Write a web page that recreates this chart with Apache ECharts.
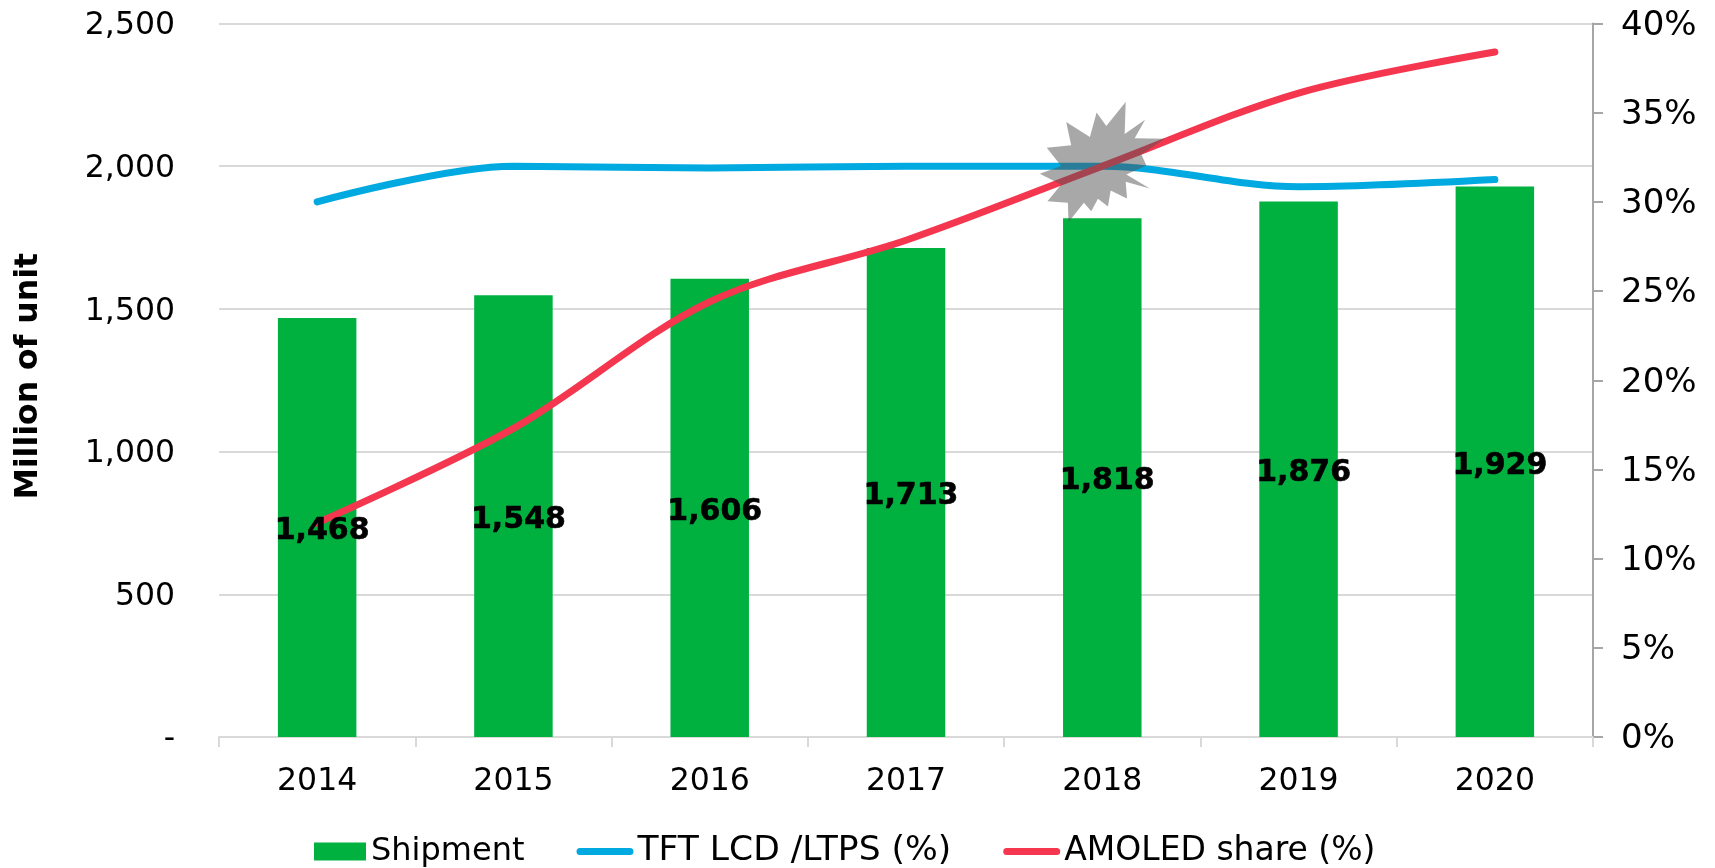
<!DOCTYPE html>
<html>
<head>
<meta charset="utf-8">
<style>html,body{margin:0;padding:0;background:#fff}#c{width:1715px;height:868px}</style>
<script src="https://cdn.jsdelivr.net/npm/echarts@6/dist/echarts.min.js"></script>
</head>
<body>
<div id="c"></div>
<script>
const categories = ['2014','2015','2016','2017','2018','2019','2020'];
const shipment = [1468,1548,1606,1713,1818,1876,1929];
const tftShare = [30.0,32.0,31.9,32.0,32.0,30.85,31.25];
const amoledShare = [12.0,17.3,24.4,27.85,32.0,36.1,38.4];
const burstMarker = [null,null,null,null,2015,null,null];
const burstPath = 'path://M523 128L520 224L581 181L550 237L640 238L570 285L585 318L525 345L595 387L523 367L527 417L478 393L470 441L440 418L420 455L398 430L352 487L350 430L289 425L330 375L266 343L330 320L287 265L360 258L345 188L416 233L436 160L465 200Z';
const rectIcon = 'path://M0 0H52V18H0ZM57 0L57 0Z';
const lineIcon = 'path://M3.5 5.5H53.5A3.5 3.5 0 0 1 53.5 12.5H3.5A3.5 3.5 0 0 1 3.5 5.5ZM0 0L0 0ZM57 18L57 18Z';
const FONT = '"DejaVu Sans", Verdana, sans-serif';

const chart = echarts.init(document.getElementById('c'), null, {renderer:'canvas'});
chart.setOption({
  animation:false,
  backgroundColor:'#fff',
  textStyle:{fontFamily:FONT},
  grid:{left:219,right:122,top:23.5,bottom:131,containLabel:false},
  legend:{
    data:[
      {name:'Shipment',icon:rectIcon,textStyle:{fontSize:32,padding:[0,0,0,-5]}},
      {name:'TFT LCD /LTPS (%)',icon:lineIcon,textStyle:{fontSize:34.5,padding:[0,0,0,-1]}},
      {name:'AMOLED share (%)',icon:lineIcon,textStyle:{fontSize:33,padding:[0,0,0,-1]}}
    ],
    left:309, top:829, itemWidth:57, itemHeight:18, itemGap:52,
    textStyle:{fontFamily:FONT,fontSize:33,color:'#000'}
  },
  xAxis:{
    type:'category', data:categories,
    axisLine:{lineStyle:{color:'#d9d9d9',width:2}},
    axisTick:{show:true,length:10,alignWithLabel:false,lineStyle:{color:'#d9d9d9',width:2}},
    axisLabel:{color:'#000',fontFamily:FONT,fontSize:31.5,margin:29}
  },
  yAxis:[{
    type:'value', min:0, max:2500, interval:500,
    name:'Million of unit', nameLocation:'middle', nameGap:174, nameRotate:90,
    nameTextStyle:{fontFamily:FONT,fontSize:31.5,fontWeight:'bold',color:'#000',padding:[0,0,0,8]},
    axisLine:{show:false}, axisTick:{show:false},
    splitLine:{lineStyle:{color:'#d9d9d9',width:2}},
    axisLabel:{margin:44,
      formatter:v=> '{a|' + (v===0 ? '-' : v.toLocaleString('en-US')) + '}',
      rich:{a:{color:'#000',fontFamily:FONT,fontSize:31.5,padding:[5,0,0,0]}}}
  },{
    type:'value', min:0, max:40, interval:5, position:'right',
    axisLine:{show:true,lineStyle:{color:'#a6a6a6',width:2}},
    axisTick:{show:true,length:10,lineStyle:{color:'#a6a6a6',width:2}},
    splitLine:{show:false},
    axisLabel:{margin:28,
      formatter:v=> '{a|' + v + '%}',
      rich:{a:{color:'#000',fontFamily:FONT,fontSize:34,padding:[5,0,0,0]}}}
  }],
  series:[{
    name:'Shipment', type:'bar', data:shipment, barWidth:78.5, barGap:'-100%', z:2,
    itemStyle:{color:'#00b140'}
  },{
    name:'TFT LCD /LTPS (%)', type:'line', yAxisIndex:1, data:tftShare, smooth:0.33, showSymbol:false, symbol:'none', z:3,
    lineStyle:{color:'#00a9e0',width:7,cap:'round'}, itemStyle:{color:'#00a9e0'}
  },{
    name:'AMOLED share (%)', type:'line', yAxisIndex:1, data:amoledShare, smooth:0.33, showSymbol:false, symbol:'none', z:4,
    lineStyle:{color:'#f5364f',width:7,cap:'round'}, itemStyle:{color:'#f5364f'}
  },{
    name:'burst', type:'scatter', data:burstMarker, symbol:burstPath, symbolSize:[125,120], z:5,
    itemStyle:{color:'#525252',opacity:0.5}, silent:true
  },{
    name:'labels', type:'bar', data:shipment, barWidth:78.5, barGap:'-100%', z:6, silent:true,
    itemStyle:{color:'rgba(0,0,0,0)'},
    label:{show:true,position:'inside',offset:[5,4],color:'#000',fontFamily:FONT,fontSize:30,fontWeight:'bold',
      textBorderColor:'#000',textBorderWidth:0.6,
      formatter:p=>p.value.toLocaleString('en-US')}
  }]
});
</script>
</body>
</html>
